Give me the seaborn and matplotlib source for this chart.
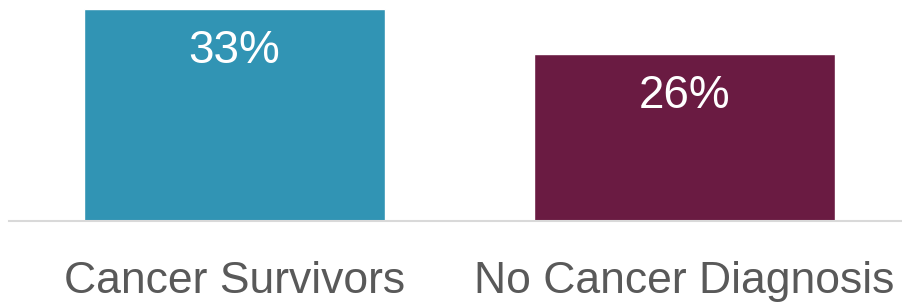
import matplotlib
matplotlib.use("Agg")
import matplotlib.pyplot as plt
import seaborn as sb
import pandas as pd

# DATA
#----------------------------------------------------
groups = ["Cancer Survivors", "No Cancer Diagnosis"]
values = [33, 26]
bar_colors = ["#3194b4", "#6a1b42"]

# PLOT
#----------------------------------------------------
def main():
    sb.set_style("white")
    plt.rcParams["font.family"] = ["Liberation Sans", "DejaVu Sans"]

    df = pd.DataFrame({"group": groups, "value": values})

    fig = plt.figure(figsize=(9.02, 3.03), dpi=100)
    ax = fig.add_axes([9/902, 82/303, 893/902, 212/303])

    sb.barplot(data=df, x="group", y="value", hue="group",
               palette=bar_colors, width=0.669, legend=False,
               saturation=1, ax=ax)

    for i, v in enumerate(values):
        ax.annotate(f"{v}%", xy=(i, v), xytext=(0, -30),
                    textcoords="offset points", ha="center", va="center",
                    color="white", fontsize=33)

    ax.set_ylim(0, 33)
    ax.set_xlim(-0.501, 1.483)
    ax.set_xlabel("")
    ax.set_ylabel("")
    ax.set_yticks([])
    for s in ["top", "right", "left"]:
        ax.spines[s].set_visible(False)
    ax.spines["bottom"].set_color("#d9d9d9")
    ax.spines["bottom"].set_linewidth(1.5)
    ax.tick_params(axis="x", length=0, pad=29, labelsize=32, labelcolor="#595959")

    fig.savefig("out.png", dpi=100)

if __name__ == "__main__":
    main()
